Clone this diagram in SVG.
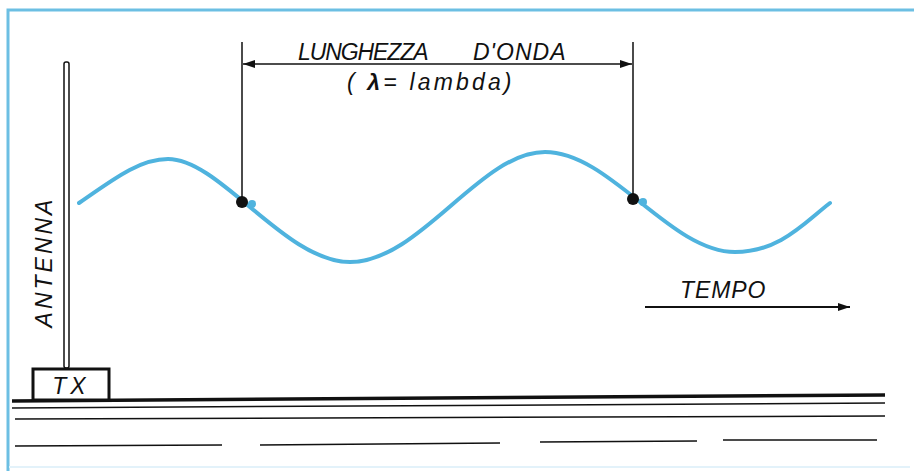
<svg xmlns="http://www.w3.org/2000/svg" width="914" height="471" viewBox="0 0 914 471">
<style>
.t{font-family:"Liberation Sans",Arial,sans-serif;font-style:italic;font-size:23px;fill:#111;letter-spacing:1.5px}
.ln{stroke:#111;fill:none}
.wave{stroke:#4fb3de;stroke-width:4;fill:none;stroke-linecap:round}
.frame{stroke:#6cbfe3;stroke-width:3;fill:none}
</style>
<defs>
<marker id="ah" viewBox="0 0 12 8" refX="12" refY="4" markerWidth="12" markerHeight="8" markerUnits="userSpaceOnUse" orient="auto-start-reverse">
<path d="M0,0 L12,4 L0,8 Z" fill="#111"/>
</marker>
</defs>
<rect width="914" height="471" fill="#fff"/>
<g id="frame">
<path class="frame" d="M8,471 L8,10 L914,10"/>
<path d="M9,467 L910,467" stroke="#e3f2fa" stroke-width="2"/>
</g>
<g id="ground">
<path class="ln" stroke-width="3.5" d="M12,401 L885,395"/>
<path class="ln" stroke-width="1.5" d="M12,408 L885,403"/>
<path class="ln" stroke-width="1.5" d="M15,419 L885,416"/>
<path class="ln" stroke-width="1.5" d="M15,446 L222,445 M260,445 L500,443 M540,442 L697,441 M723,440 L877,440"/>
</g>
<g id="antenna">
<rect x="64" y="62" width="5" height="306" rx="2" fill="#fff" stroke="#111" stroke-width="1.5"/>
<text class="t" transform="translate(52,262) rotate(-90)" text-anchor="middle" style="letter-spacing:3px">ANTENNA</text>
</g>
<g id="tx">
<rect x="33" y="369" width="76" height="31" fill="#fff" stroke="#111" stroke-width="3"/>
<text class="t" x="71" y="394" text-anchor="middle" style="letter-spacing:4px">TX</text>
</g>
<g id="wave">
<path class="wave" d="M79,203 C115,178 140,159 168,159 C220,159 285,262 350,262 C420,262 480,152 545,152 C610,152 670,252 735,252 C780,252 805,222 830,203"/>
<circle cx="252" cy="204" r="4" fill="#4fb3de"/>
<circle cx="643" cy="202" r="4" fill="#4fb3de"/>
</g>
<g id="connectors">
<path class="ln" stroke-width="1.5" d="M242,42 L242,202 M633,42 L633,199"/>
<path class="ln" stroke-width="1.5" d="M243,64 L632,64" marker-start="url(#ah)" marker-end="url(#ah)"/>
<path class="ln" stroke-width="2" d="M645,307 L850,307" marker-end="url(#ah)"/>
<circle cx="242" cy="202" r="6" fill="#111"/>
<circle cx="633" cy="199" r="6" fill="#111"/>
</g>
<g id="labels">
<text class="t" x="298" y="60" textLength="132">LUNGHEZZA</text>
<text class="t" x="473" y="60" textLength="94">D'ONDA</text>
<text class="t" x="347" y="90" textLength="166">( <tspan font-weight="bold">λ</tspan>= lambda)</text>
<text class="t" x="680" y="298" textLength="87">TEMPO</text>
</g>
</svg>
